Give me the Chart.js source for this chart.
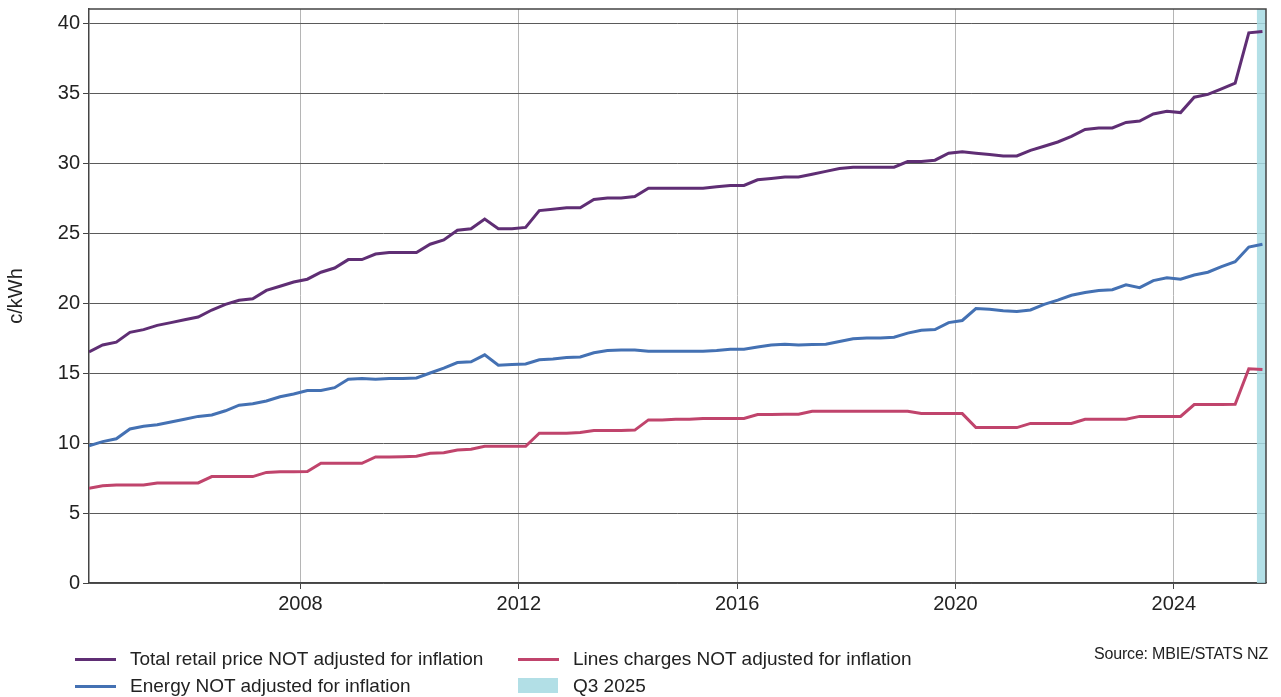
<!DOCTYPE html>
<html>
<head>
<meta charset="utf-8">
<script src="https://cdn.jsdelivr.net/npm/chart.js@4.4.1/dist/chart.umd.min.js"></script>
<style>
  html, body { margin: 0; padding: 0; background: #fff; }
  body { width: 1281px; height: 697px; position: relative; overflow: hidden; font-family: "Liberation Sans", Arial, sans-serif; color: #222; }
  #wrap { position: absolute; left: 0; top: -6px; width: 1281px; height: 703px; }
  .leg { position: absolute; font-size: 19px; line-height: 22px; white-space: nowrap; }
  .sw { position: absolute; height: 3px; width: 41px; }
  .box { position: absolute; height: 15px; width: 40px; }
  #source { position: absolute; right: 13px; top: 645px; font-size: 16px; letter-spacing: -0.2px; }
</style>
</head>
<body>
<div id="wrap"><canvas id="chart" width="1281" height="703"></canvas></div>

<div class="sw" style="left:75px; top:658px; background:#5f2e74"></div>
<div class="leg" style="left:130px; top:648px">Total retail price NOT adjusted for inflation</div>
<div class="sw" style="left:75px; top:685px; background:#4471b3"></div>
<div class="leg" style="left:130px; top:675px">Energy NOT adjusted for inflation</div>
<div class="sw" style="left:518px; top:658px; background:#c0446c"></div>
<div class="leg" style="left:573px; top:648px">Lines charges NOT adjusted for inflation</div>
<div class="box" style="left:518px; top:678px; background:#b2dfe6"></div>
<div class="leg" style="left:573px; top:675px">Q3 2025</div>
<div id="source">Source: MBIE/STATS NZ</div>

<script>
// quarterly series, 2004 Q1 .. 2025 Q3 (c/kWh)
const firstQuarterX = 2004.125;
const yearTicks = [2008, 2012, 2016, 2020, 2024];
const yTicks = [0, 5, 10, 15, 20, 25, 30, 35, 40];
const highlightLabel = 'Q3 2025';
const highlightRange = [2025.52, 2025.69];

const totalPrice = [
  16.5, 17.0, 17.2, 17.9, 18.1, 18.4, 18.6, 18.8, 19.0, 19.5,
  19.9, 20.2, 20.3, 20.9, 21.2, 21.5, 21.7, 22.2, 22.5, 23.1,
  23.1, 23.5, 23.6, 23.6, 23.6, 24.2, 24.5, 25.2, 25.3, 26.0,
  25.3, 25.3, 25.4, 26.6, 26.7, 26.8, 26.8, 27.4, 27.5, 27.5,
  27.6, 28.2, 28.2, 28.2, 28.2, 28.2, 28.3, 28.4, 28.4, 28.8,
  28.9, 29.0, 29.0, 29.2, 29.4, 29.6, 29.7, 29.7, 29.7, 29.7,
  30.1, 30.1, 30.2, 30.7, 30.8, 30.7, 30.6, 30.5, 30.5, 30.9,
  31.2, 31.5, 31.9, 32.4, 32.5, 32.5, 32.9, 33.0, 33.5, 33.7,
  33.6, 34.7, 34.9, 35.3, 35.7, 39.3, 39.4
];
const energy = [
  9.8, 10.1, 10.3, 11.0, 11.2, 11.3, 11.5, 11.7, 11.9, 12.0,
  12.3, 12.7, 12.8, 13.0, 13.3, 13.5, 13.75, 13.75, 13.95, 14.55,
  14.6, 14.55, 14.6, 14.6, 14.65, 15.0, 15.35, 15.75, 15.8, 16.3,
  15.55, 15.6, 15.65, 15.95, 16.0, 16.1, 16.15, 16.45, 16.6, 16.65,
  16.65, 16.55, 16.55, 16.55, 16.55, 16.55, 16.6, 16.7, 16.7, 16.85,
  17.0, 17.05, 17.0, 17.03, 17.05, 17.25, 17.45, 17.5, 17.5, 17.55,
  17.85, 18.05, 18.1, 18.6, 18.75, 19.6, 19.55, 19.45, 19.4, 19.5,
  19.9, 20.2, 20.55, 20.75, 20.9, 20.95, 21.3, 21.1, 21.6, 21.8,
  21.7, 22.0, 22.2, 22.6, 22.95, 24.0, 24.2
];
const linesCharges = [
  6.77, 6.95, 7.0, 7.0, 7.0, 7.15, 7.15, 7.15, 7.15, 7.6,
  7.6, 7.6, 7.6, 7.9, 7.95, 7.95, 7.97, 8.55, 8.55, 8.55,
  8.55, 9.0, 9.0, 9.02, 9.05, 9.27, 9.3, 9.5, 9.55, 9.77,
  9.77, 9.77, 9.77, 10.7, 10.7, 10.7, 10.75, 10.9, 10.9, 10.9,
  10.92, 11.65, 11.65, 11.7, 11.7, 11.75, 11.75, 11.75, 11.75, 12.03,
  12.03, 12.05, 12.05, 12.27, 12.27, 12.27, 12.27, 12.27, 12.27, 12.27,
  12.27, 12.1, 12.1, 12.1, 12.1, 11.1, 11.1, 11.1, 11.1, 11.4,
  11.4, 11.4, 11.4, 11.7, 11.7, 11.7, 11.7, 11.9, 11.9, 11.9,
  11.9, 12.75, 12.75, 12.75, 12.77, 15.3, 15.25
];

const toPoints = arr => arr.map((v, i) => ({ x: firstQuarterX + i * 0.25, y: v }));

const lineStyle = (label, data, color) => ({
  label, data: toPoints(data), borderColor: color, backgroundColor: color,
  borderWidth: 3, pointRadius: 0, tension: 0, fill: false, order: 1
});

// top + right frame around the plot
const framePlugin = {
  id: 'frame',
  afterDatasetsDraw(chart) {
    const { ctx, chartArea: a } = chart;
    ctx.save();
    ctx.strokeStyle = '#444';
    ctx.lineWidth = 1.5;
    ctx.beginPath();
    ctx.moveTo(a.left, a.top);
    ctx.lineTo(a.right, a.top);
    ctx.lineTo(a.right, a.bottom);
    ctx.stroke();
    ctx.restore();
  }
};

new Chart(document.getElementById('chart'), {
  type: 'line',
  data: {
    datasets: [
      lineStyle('Total retail price NOT adjusted for inflation', totalPrice, '#5f2e74'),
      lineStyle('Energy NOT adjusted for inflation', energy, '#4471b3'),
      lineStyle('Lines charges NOT adjusted for inflation', linesCharges, '#c0446c'),
      {
        label: highlightLabel,
        data: [{ x: highlightRange[0], y: 41 }, { x: highlightRange[1], y: 41 }],
        borderWidth: 0, pointRadius: 0, fill: 'origin',
        backgroundColor: 'rgba(166,218,227,0.85)', order: 5
      }
    ]
  },
  plugins: [framePlugin],
  options: {
    responsive: false,
    animation: false,
    layout: { padding: { left: 0, top: 3, right: 15, bottom: 69 } },
    plugins: { legend: { display: false }, tooltip: { enabled: false } },
    scales: {
      x: {
        type: 'linear',
        min: firstQuarterX,
        max: highlightRange[1],
        afterBuildTicks: s => { s.ticks = yearTicks.map(v => ({ value: v })); },
        afterFit: s => { s.height = 45; },
        grid: { color: '#b5b5b5', lineWidth: 1, tickLength: 6, tickColor: '#444' },
        border: { color: '#444', width: 1.5 },
        ticks: { font: { family: 'Liberation Sans', size: 20 }, color: '#222', padding: 3, maxRotation: 0, callback: v => String(v) }
      },
      y: {
        min: 0,
        max: 41,
        afterBuildTicks: s => { s.ticks = yTicks.map(v => ({ value: v })); },
        afterFit: s => { s.width = 89; },
        grid: { color: '#5a5a5a', lineWidth: 1, tickLength: 6, tickColor: '#444' },
        border: { color: '#444', width: 1.5 },
        title: { display: true, text: 'c/kWh', font: { family: 'Liberation Sans', size: 20 }, color: '#222', padding: { top: 4, bottom: 2 } },
        ticks: { font: { family: 'Liberation Sans', size: 20 }, color: '#222', padding: 3 }
      }
    }
  }
});
</script>
</body>
</html>
